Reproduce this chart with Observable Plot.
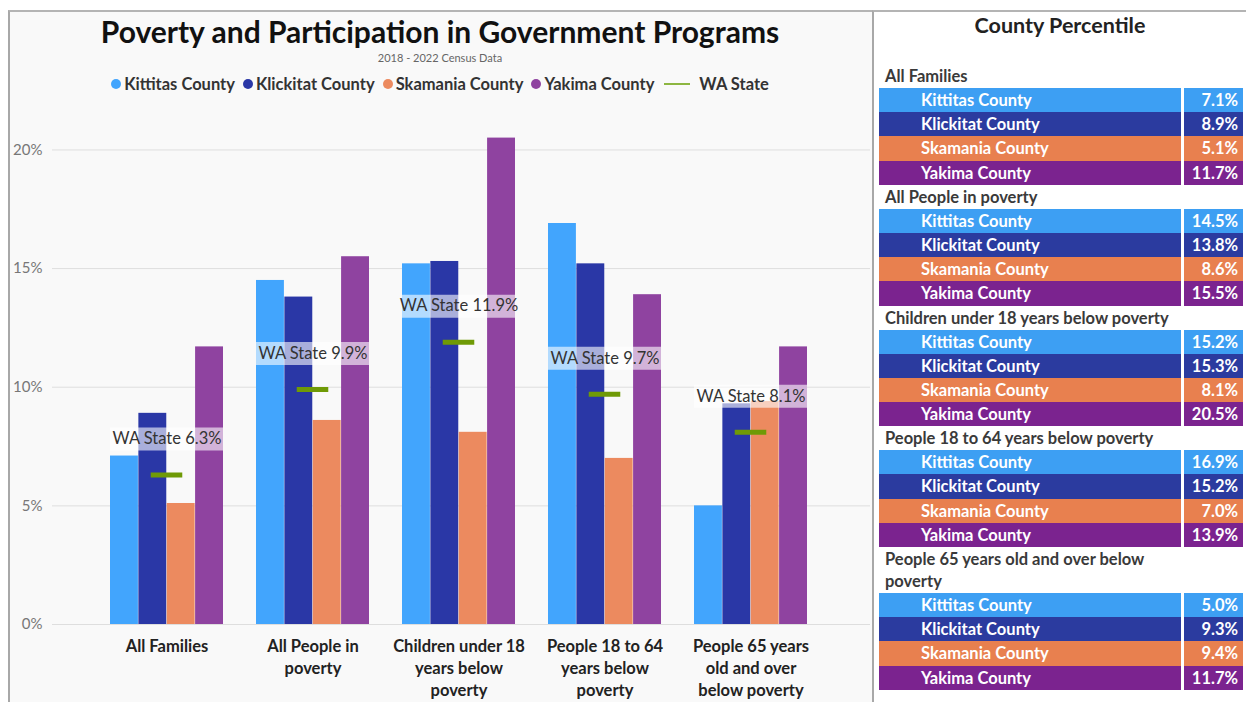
<!DOCTYPE html>
<html><head><meta charset="utf-8">
<script src="https://cdn.jsdelivr.net/npm/d3@7"></script>
<script src="https://cdn.jsdelivr.net/npm/@observablehq/plot@0.6"></script>
<style>
body{margin:0;background:#fff;font-family:Lato,"Open Sans",sans-serif;}
#page{position:relative;width:1246px;height:702px;overflow:hidden;background:#fff;}
#leftbg{position:absolute;left:8px;top:10px;width:864px;height:692px;background:#f9f9f9;border-left:2px solid #a8a8a8;border-top:2px solid #b4b4b4;box-sizing:border-box;}
#title{position:absolute;left:8px;width:864px;top:12px;text-align:center;font-size:30px;font-weight:bold;color:#111;line-height:38px;}
#subtitle{position:absolute;left:8px;width:864px;top:51px;text-align:center;font-size:11px;color:#666;line-height:14px;}
#legend{position:absolute;left:8px;width:864px;top:73px;display:flex;justify-content:center;align-items:center;font-size:16.5px;font-weight:bold;color:#333;line-height:22px;}
.li{display:flex;align-items:center;margin:0 4px;}
.dot{width:10px;height:10px;border-radius:50%;margin-right:3px;}
.ln{width:26px;height:2px;margin-right:9px;margin-left:2px;}
#chart{position:absolute;left:8px;top:100px;}
#right{position:absolute;left:872px;top:10px;width:374px;height:692px;background:#fff;border-left:2px solid #a8a8a8;border-top:2px solid #b4b4b4;box-sizing:border-box;}
#rtitle{position:absolute;left:0;width:372px;top:0px;text-align:center;font-size:21.5px;font-weight:bold;color:#222;line-height:26px;}
#table{position:absolute;left:5px;top:52px;width:366px;}
.hdr{padding:1px 0 1px 6px;line-height:22px;font-size:16.5px;font-weight:bold;color:#3a3a3a;white-space:pre-line;}
.row{display:flex;height:24.2px;}
.nm{width:302px;box-sizing:border-box;padding-left:42px;color:#fff;font-weight:bold;font-size:16.5px;line-height:24.2px;}
.vl{width:59px;margin-left:3px;box-sizing:border-box;padding-right:5px;text-align:right;color:#fff;font-weight:bold;font-size:16.5px;line-height:24.2px;}
</style></head>
<body>
<div id="page">
  <div id="leftbg"></div>
  <div id="title">Poverty and Participation in Government Programs</div>
  <div id="subtitle">2018 - 2022 Census Data</div>
  <div id="legend"></div>
  <div id="chart"></div>
  <div id="right"><div id="rtitle">County Percentile</div><div id="table"></div></div>
</div>
<script>
const categories = ["All Families","All People in poverty","Children under 18 years below poverty","People 18 to 64 years below poverty","People 65 years old and over below poverty"];
const categoryLabels = ["All Families","All People in\npoverty","Children under 18\nyears below\npoverty","People 18 to 64\nyears below\npoverty","People 65 years\nold and over\nbelow poverty"];
const sectionTitles = ["All Families","All People in poverty","Children under 18 years below poverty","People 18 to 64 years below poverty","People 65 years old and over below\npoverty"];
const counties = ["Kittitas County","Klickitat County","Skamania County","Yakima County"];
const kittitas  = [7.1, 14.5, 15.2, 16.9, 5.0];
const klickitat = [8.9, 13.8, 15.3, 15.2, 9.3];
const skamania  = [5.1, 8.6, 8.1, 7.0, 9.4];
const yakima    = [11.7, 15.5, 20.5, 13.9, 11.7];
const waState   = [6.3, 9.9, 11.9, 9.7, 8.1];
const yTicks = [0, 5, 10, 15, 20];
const chartColors = ["#42a5fd","#2a37a6","#ec8a5f","#8f43a0"];
const tableColors = ["#3d9ff3","#2b3b9f","#e8804f","#7b238f"];
const stateColor = "#6f9a06";
const stateLegendColor = "#8db641";

const series = [kittitas, klickitat, skamania, yakima];

// legend
const legend = document.getElementById("legend");
counties.forEach((c,i)=>{
  const d=document.createElement("div");d.className="li";
  d.innerHTML=`<span class="dot" style="background:${chartColors[i]}"></span>${c}`;
  legend.appendChild(d);
});
{const d=document.createElement("div");d.className="li";
 d.innerHTML=`<span class="ln" style="background:${stateLegendColor}"></span>WA State`;legend.appendChild(d);}

// chart
const W=864,H=602,mL=44,mR=2,mT=2,mB=78,pi=0.227,po=0.4;
const step=(W-mL-mR)/(categories.length-pi+2*po);
const bw=step*(1-pi), q=bw/4;
const stateRows = categories.map((c,j)=>({category:c, value:waState[j]}));
const marks=[Plot.ruleY(yTicks,{stroke:"#dedede"})];
series.forEach((vals,i)=>{
  const rows=categories.map((c,j)=>({category:c,county:counties[i],value:vals[j]}));
  marks.push(Plot.barY(rows,{x:"category",y:"value",fill:chartColors[i],insetLeft:i*q,insetRight:(3-i)*q}));
});
marks.push(Plot.tickY(stateRows,{x:"category",y:"value",dy:-36,stroke:"#ffffff",strokeOpacity:0.6,strokeWidth:23}));
marks.push(Plot.tickY(stateRows,{x:"category",y:"value",stroke:stateColor,strokeWidth:5,insetLeft:(bw-32)/2,insetRight:(bw-32)/2}));
marks.push(Plot.text(stateRows,{x:"category",y:"value",dy:-36,text:d=>`WA State ${d.value.toFixed(1)}%`,fontSize:16.5,fill:"#333"}));
marks.push(Plot.axisY({ticks:yTicks,tickSize:0,tickPadding:10,tickFormat:d=>d+"%",fontSize:15,color:"#777"}));
marks.push(Plot.axisX({tickSize:0,tickPadding:12,tickFormat:c=>categoryLabels[categories.indexOf(c)],fontSize:16.5,fontWeight:"bold",color:"#222",lineHeight:1.33}));
const chart=Plot.plot({
  width:W,height:H,marginLeft:mL,marginRight:mR,marginTop:mT,marginBottom:mB,
  style:{fontFamily:"Lato, sans-serif",background:"transparent",overflow:"visible"},
  x:{domain:categories,paddingInner:pi,paddingOuter:po,align:0.475,label:null},
  y:{domain:[0,22],label:null},
  marks
});
document.getElementById("chart").appendChild(chart);

// table
const table=document.getElementById("table");
sectionTitles.forEach((t,j)=>{
  const h=document.createElement("div");h.className="hdr";h.textContent=t;table.appendChild(h);
  counties.forEach((c,i)=>{
    const r=document.createElement("div");r.className="row";
    r.innerHTML=`<div class="nm" style="background:${tableColors[i]}">${c}</div><div class="vl" style="background:${tableColors[i]}">${series[i][j].toFixed(1)}%</div>`;
    table.appendChild(r);
  });
});
</script>
</body></html>
